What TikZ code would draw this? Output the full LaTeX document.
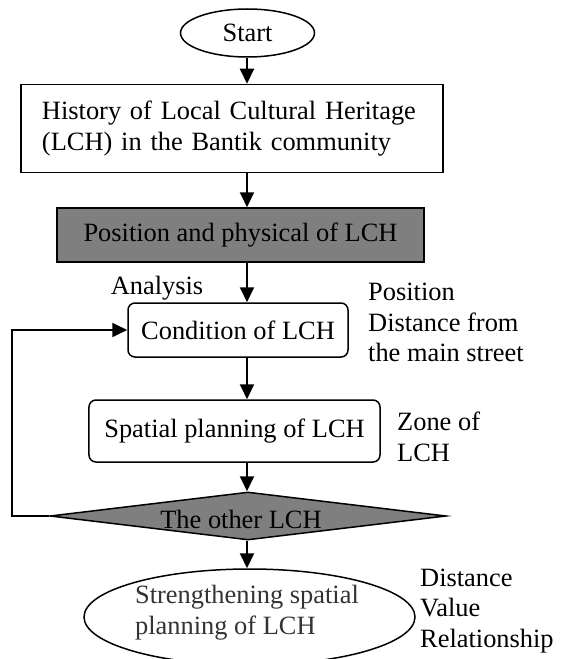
\documentclass[tikz,border=0pt]{standalone}
\usepackage{fontspec}
\setmainfont{Liberation Serif}
\usetikzlibrary{shapes.geometric,arrows.meta}
\definecolor{boxgray}{HTML}{7F7F7F}
\definecolor{txtgray}{HTML}{333333}
\tikzset{
  every node/.style={font=\fontsize{26.5}{31}\selectfont, inner sep=0pt},
  boxline/.style={draw=black, line width=1.5bp},
  plainbox/.style={boxline, rectangle},
  roundbox/.style={boxline, rectangle, rounded corners=7bp},
  graybox/.style={boxline, rectangle, fill=boxgray},
  oval/.style={boxline, ellipse},
  decision/.style={boxline, diamond, fill=boxgray},
  note/.style={anchor=west, align=left},
  flow/.style={line width=2bp, -{Triangle[width=14bp,length=15bp]}},
}
\begin{document}
\begin{tikzpicture}[x=1bp,y=-1bp]
\useasboundingbox (0,0) rectangle (563,659);
\coordinate (ax) at (247,0);
\node[oval, minimum width=134bp, minimum height=48bp] (start) at (247.5,33) {Start};
\node[plainbox, minimum width=422bp, minimum height=88bp, text width=380bp, inner xsep=21bp, align=left] (hist) at (232,128.5)
  {History of Local Cultural Heritage\\(LCH) in the Bantik community};
\node[graybox, minimum width=367bp, minimum height=54bp] (pos) at (240.5,235) {Position and physical of LCH};
\node (analysis) at (157,288) {Analysis};
\node[roundbox, minimum width=220bp, minimum height=54bp] (cond) at (238,330) {Condition of LCH};
\node[roundbox, minimum width=291bp, minimum height=62bp] (spat) at (234.5,431) {Spatial planning of LCH};
\node[decision, minimum width=396bp, minimum height=48bp, aspect=8.25] (dia) at (248,516) {};
\node (diatxt) at (241,519) {The other LCH};
\node[oval, minimum width=331bp, minimum height=96bp] (end) at (249.5,617) {};
\node[align=left, text=txtgray] (endtxt) at (247,612.5) {Strengthening spatial\\planning of LCH};
\node[note] (poslbl) at (368,322.5) {Position\\Distance from\\the main street};
\node[note] (zonelbl) at (397,437) {Zone of\\LCH};
\node[note] (distlbl) at (420,611) {Distance\\Value\\Relationship};
\draw[flow] (ax |- start.south) -- (ax |- hist.north);
\draw[flow] (ax |- hist.south) -- (ax |- pos.north);
\draw[flow] (ax |- pos.south) -- (ax |- cond.north);
\draw[flow] (ax |- cond.south) -- (ax |- spat.north);
\draw[flow] (ax |- spat.south) -- (ax |- dia.north);
\draw[flow] (ax |- dia.south) -- (ax |- end.north);
\draw[flow] (dia.west) -- ++(-37.5,0) |- (cond.west);
\end{tikzpicture}
\end{document}
